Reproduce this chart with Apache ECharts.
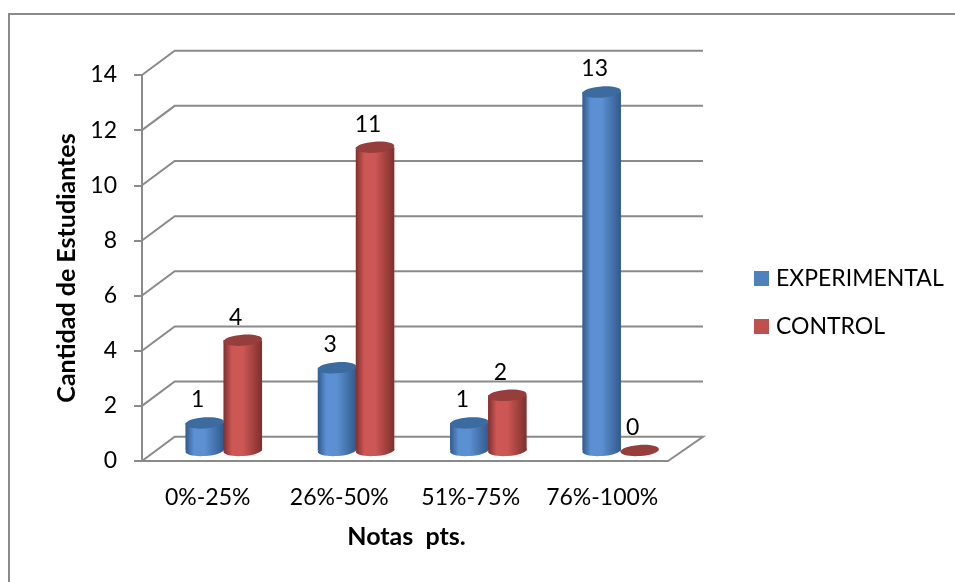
<!DOCTYPE html>
<html>
<head>
<meta charset="utf-8">
<style>html,body{margin:0;padding:0;background:#fff}#chart{width:955px;height:582px}</style>
<script src="https://cdn.jsdelivr.net/npm/echarts@6/dist/echarts.min.js"></script>
</head>
<body>
<div id="chart"></div>
<script>
// Student counts per grade band
const categories = ['0%-25%', '26%-50%', '51%-75%', '76%-100%'];
const experimental = [1, 3, 1, 13];
const control = [4, 11, 2, 0];
const wallTicks = [0, 2, 4, 6, 8, 10, 12, 14];

// Pseudo-3D projection of the chart box
const depthX = 32.7, depthY = -24.3, backStretch = 2.3;
const lineColor = '#8a8a8a';
const fontFamily = 'Lato, Carlito, Calibri, sans-serif';
const labelSize = 23, titleSize = 25;

const palettes = {
  blue: { edge: '#31598c', mid: '#5b90d2', top: '#3c6ba0' },
  red: { edge: '#7f2f2c', mid: '#cd5755', top: '#953e3b' }
};

function cylinderRenderer(shift, pal) {
  return function (params, api) {
    const idx = api.value(0), val = api.value(1);
    const rx = 19.3, ry = 5.6, tilt = 0.07;
    const cx = api.coord([idx, 0])[0] + shift + idx * 0.8;
    const base = api.coord([idx, 0])[1] - 10.5;
    const top = api.coord([idx, val])[1] - 10.5;
    const grad = new echarts.graphic.LinearGradient(0, 0, 1, 0, [
      { offset: 0, color: pal.edge },
      { offset: 0.22, color: pal.mid },
      { offset: 0.5, color: pal.mid },
      { offset: 1, color: pal.edge }
    ]);
    const children = [];
    if (val > 0) {
      children.push({
        type: 'ellipse', shape: { cx: cx, cy: base, rx: rx, ry: ry },
        rotation: tilt, originX: cx, originY: base, style: { fill: grad }
      });
      children.push({
        type: 'rect', shape: { x: cx - rx, y: top, width: 2 * rx, height: base - top },
        style: { fill: grad }
      });
    }
    children.push({
      type: 'ellipse', shape: { cx: cx, cy: top, rx: rx, ry: ry },
      rotation: tilt, originX: cx, originY: top, style: { fill: pal.top }
    });
    children.push({
      type: 'text', x: cx - 7, y: top - 23,
      style: {
        text: String(val), fill: '#000', font: labelSize + 'px ' + fontFamily,
        align: 'center', verticalAlign: 'middle'
      }
    });
    return { type: 'group', children: children };
  };
}

// Back wall and floor lines, offset from the front axes by the depth vector
function wallRenderer(params, api) {
  const v = api.value(0);
  const p0 = api.coord([0, v]);
  const x0 = params.coordSys.x, x1 = params.coordSys.x + params.coordSys.width;
  const points = [[x0, p0[1]], [x0 + depthX, p0[1] + depthY], [x1 + depthX + backStretch, p0[1] + depthY]];
  if (v === 0) points.push([x1, p0[1]]);
  return {
    type: 'polyline', shape: { points: points },
    style: { stroke: lineColor, lineWidth: 2, fill: null }
  };
}

const chart = echarts.init(document.getElementById('chart'), null, { renderer: 'canvas' });
chart.setOption({
  animation: false,
  backgroundColor: '#fff',
  graphic: [{
    type: 'polyline', shape: { points: [[9, 582], [9, 14], [955, 14]] },
    style: { fill: null, stroke: lineColor, lineWidth: 2 }, z: -1
  }],
  grid: { left: 142, top: 75, width: 526, height: 386 },
  legend: {
    orient: 'vertical', left: 749, top: 262, itemWidth: 15, itemHeight: 15, itemGap: 25,
    icon: 'rect', data: ['EXPERIMENTAL', 'CONTROL'],
    textStyle: { fontFamily: fontFamily, fontSize: labelSize, color: '#000', padding: [0, 0, 0, 2] }
  },
  xAxis: {
    type: 'category', data: categories,
    name: 'Notas  pts.', nameLocation: 'middle', nameGap: 63,
    nameTextStyle: { fontFamily: fontFamily, fontSize: titleSize, fontWeight: 'bold', color: '#000', padding: [0, 0, 0, 3] },
    axisLine: { lineStyle: { color: lineColor, width: 2 } },
    axisTick: { length: 8, lineStyle: { color: lineColor, width: 2 } },
    axisLabel: { interval: 0, fontFamily: fontFamily, fontSize: labelSize, color: '#000', margin: 25 }
  },
  yAxis: {
    type: 'value', min: 0, max: 14, interval: 2,
    name: 'Cantidad de Estudiantes', nameLocation: 'middle', nameGap: 62,
    nameTextStyle: { fontFamily: fontFamily, fontSize: titleSize, fontWeight: 'bold', color: '#000' },
    splitLine: { show: false },
    axisLine: { show: true, lineStyle: { color: lineColor, width: 2 } },
    axisTick: { show: true, length: 8, lineStyle: { color: lineColor, width: 2 } },
    axisLabel: { fontFamily: fontFamily, fontSize: labelSize, color: '#000', margin: 25, padding: [6, 0, 0, 0] }
  },
  series: [
    { type: 'custom', name: 'wall', silent: true, z: 1, data: wallTicks.map(v => [v]),
      encode: { y: 0 }, renderItem: wallRenderer, itemStyle: { color: lineColor } },
    { type: 'custom', name: 'EXPERIMENTAL', z: 2, itemStyle: { color: '#4F81BD' },
      data: experimental.map((v, i) => [i, v]), encode: { x: 0, y: 1 },
      renderItem: cylinderRenderer(-3, palettes.blue) },
    { type: 'custom', name: 'CONTROL', z: 3, itemStyle: { color: '#C0504D' },
      data: control.map((v, i) => [i, v]), encode: { x: 0, y: 1 },
      renderItem: cylinderRenderer(35, palettes.red) }
  ]
});
</script>
</body>
</html>
